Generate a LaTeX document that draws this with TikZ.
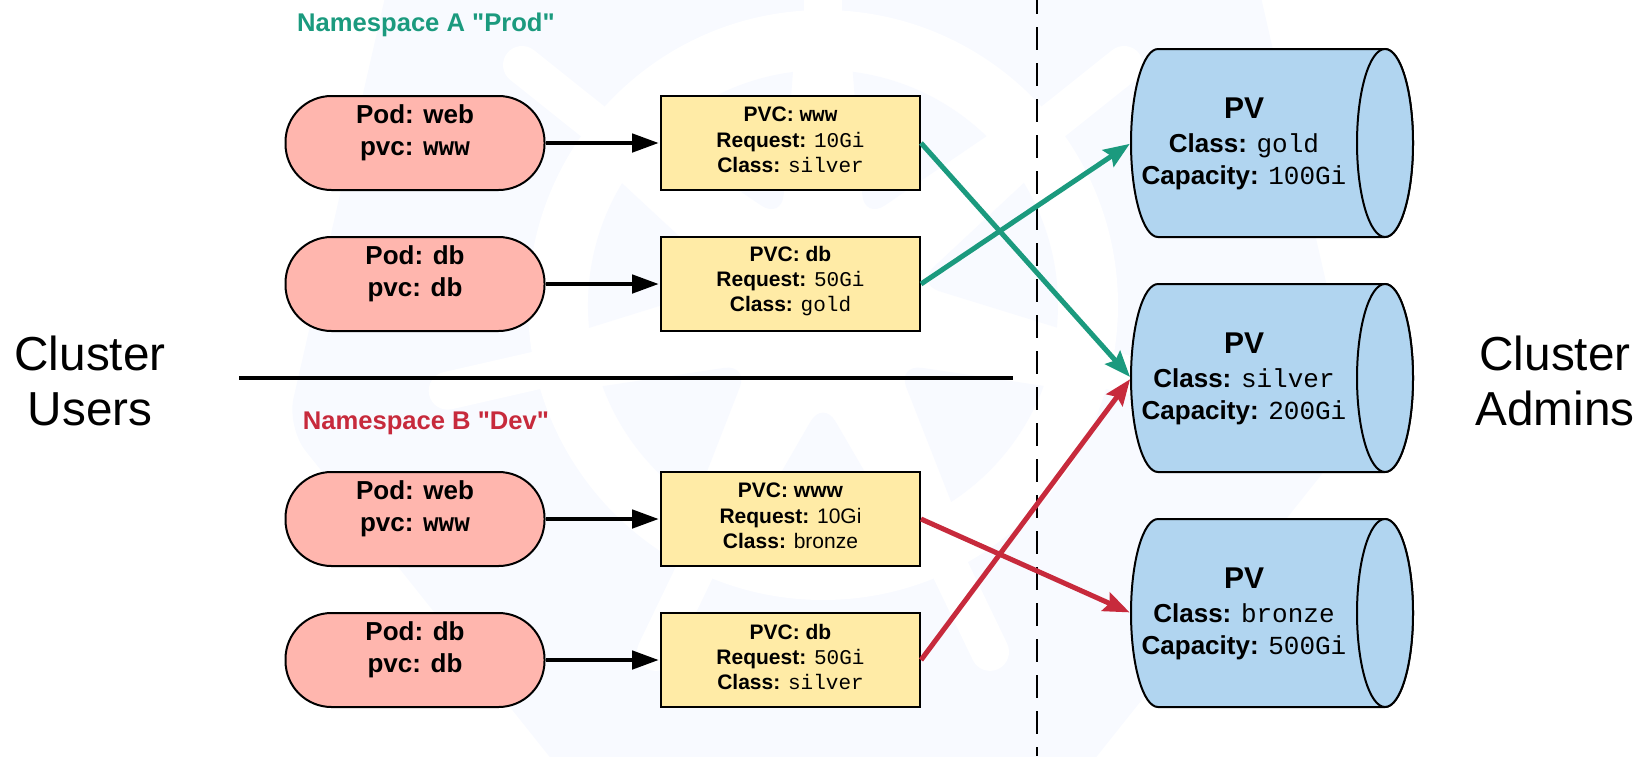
\documentclass[tikz,border=0pt]{standalone}
\usepackage{fontspec}
\setmainfont{Liberation Sans}
\setmonofont{Liberation Mono}
\newfontfamily\plainsans{Liberation Sans}
\usetikzlibrary{arrows.meta,shapes.geometric,calc}
\definecolor{wm}{HTML}{F8FAFF}
\definecolor{podfill}{HTML}{FFB6AE}
\definecolor{pvcfill}{HTML}{FFEBA6}
\definecolor{cylfill}{HTML}{B1D5F0}
\definecolor{nsa}{HTML}{1B9A7E}
\definecolor{nsb}{HTML}{C72A3C}
\tikzset{
  x=1pt,y=-1pt,
  podbox/.style={draw=black,line width=2pt,fill=podfill,rounded corners=46pt,minimum width=259pt,minimum height=94pt,inner sep=0pt,anchor=center},
  pvcbox/.style={draw=black,line width=2pt,fill=pvcfill,minimum width=259pt,minimum height=94pt,inner sep=0pt,anchor=center},
  podtxt/.style={font=\fontsize{26}{32}\selectfont\bfseries,align=center,anchor=center,inner sep=0pt},
  pvctxt/.style={font=\fontsize{21}{25.4}\selectfont,align=center,anchor=center,inner sep=0pt},
  cyltxt/.style={font=\fontsize{26}{32}\selectfont,align=center,anchor=center,inner sep=0pt},
  bigtxt/.style={font=\fontsize{47.7}{55}\selectfont,align=center,anchor=center,inner sep=0pt},
  nstxt/.style={font=\fontsize{25.6}{30}\selectfont\plainsans\bfseries,anchor=center,inner sep=0pt},
  flow/.style={line width=4.8pt,-{Stealth[length=27pt,width=18pt,inset=0pt]},shorten >=1pt},
  cross/.style={line width=5pt,-{Stealth[length=26pt,width=20pt,inset=4pt]},shorten >=1.5pt},
  cyl/.style={draw=black,line width=2pt,fill=cylfill},
}
\newcommand{\cylinder}[2]{%
  \path[cyl] (1158,#1-94) -- (1385,#1-94) arc[start angle=-90,end angle=90,x radius=28pt,y radius=-94pt] -- (1158,#1+94) arc[start angle=90,end angle=270,x radius=27pt,y radius=-94pt] -- cycle;
  \path[cyl] (1385,#1) ellipse[x radius=28pt,y radius=94pt];
  \coordinate (#2) at (1131,#1);
}
\begin{document}
\begin{tikzpicture}
\useasboundingbox (0,0) rectangle (1651,756);
\begin{scope}
\clip (0,0) rectangle (1651,756);
% watermark
\coordinate (hub) at (823,305);
\fill[wm,rounded corners=30pt]
  ($(hub)+(90:550 and -550)$) -- ($(hub)+(141.43:550 and -550)$) -- ($(hub)+(192.86:550 and -550)$) -- ($(hub)+(244.29:550 and -550)$) -- ($(hub)+(295.71:550 and -550)$) -- ($(hub)+(347.14:550 and -550)$) -- ($(hub)+(38.57:550 and -550)$) -- cycle;
\fill[white] (hub) circle[radius=295pt];
\foreach \a in {90,141.43,192.86,244.29,295.71,347.14,38.57}{
  \begin{scope}[shift={(hub)},rotate=\a]
    \fill[white] (225pt,-19pt) -- (385pt,-19pt) arc[start angle=-90,end angle=90,radius=19pt] -- (225pt,19pt) -- cycle;
  \end{scope}
  \begin{scope}[shift={(hub)},rotate=\a+25.714]
    \fill[wm] (223pt,-74pt) arc[start angle=-18.4,end angle=18.4,radius=235pt] [rounded corners=25pt] -- (95pt,0pt) [sharp corners] -- cycle;
  \end{scope}
}
\end{scope}
% divider lines
\coordinate (dtop) at (1037,0);
\coordinate (dbot) at (1037,756);
\draw[line width=2pt,dash pattern=on 23pt off 13pt,dash phase=9pt] (dtop) -- (dbot);
\coordinate (hl) at (239,378);
\coordinate (hr) at (1013,378);
\draw[line width=4pt] (hl) -- (hr);
% texts
\node[bigtxt] (cu) at (90,381) {Cluster\\Users};
\node[bigtxt] (ca) at (1555,381) {Cluster\\Admins};
\node[nstxt,text=nsa] (nsA) at (426,25) {Namespace A "Prod"};
\node[nstxt,text=nsb] (nsB) at (426,423) {Namespace B "Dev"};
% pods
\node[podbox] (p1) at (415,143) {};
\node[podbox] (p2) at (415,284) {};
\node[podbox] (p3) at (415,519) {};
\node[podbox] (p4) at (415,660) {};
\node[podtxt] (pt1) at (415,133) {Pod: web\\pvc: \texttt{www}};
\node[podtxt] (pt2) at (415,274) {Pod: db\\pvc: db};
\node[podtxt] (pt3) at (415,509) {Pod: web\\pvc: \texttt{www}};
\node[podtxt] (pt4) at (415,650) {Pod: db\\pvc: db};
% pvcs
\node[pvcbox] (c1) at (790.5,143) {};
\node[pvcbox] (c2) at (790.5,284) {};
\node[pvcbox] (c3) at (790.5,519) {};
\node[pvcbox] (c4) at (790.5,660) {};
\node[pvctxt] (ct1) at (790.5,140) {\textbf{PVC: \texttt{www}}\\\textbf{Request:} \texttt{10Gi}\\\textbf{Class:} \texttt{silver}};
\node[pvctxt] (ct2) at (790.5,281) {\textbf{PVC: db}\\\textbf{Request:} \texttt{50Gi}\\\textbf{Class:} \texttt{gold}};
\node[pvctxt] (ct3) at (790.5,516) {\textbf{PVC: www}\\\textbf{Request:} 10Gi\\\textbf{Class:} bronze};
\node[pvctxt] (ct4) at (790.5,657) {\textbf{PVC: db}\\\textbf{Request:} \texttt{50Gi}\\\textbf{Class:} \texttt{silver}};
% flows
\foreach \i in {1,2,3,4}{\draw[flow] (p\i.east) -- (c\i.west);}
% cylinders
\cylinder{143}{v1}
\cylinder{378}{v2}
\cylinder{613}{v3}
\node[cyltxt] (t1) at (1244,144) {\fontsize{30}{32}\selectfont\textbf{PV}\\[2pt]\textbf{Class:} \texttt{gold}\\\textbf{Capacity:} \texttt{100Gi}};
\node[cyltxt] (t2) at (1244,379) {\fontsize{30}{32}\selectfont\textbf{PV}\\[2pt]\textbf{Class:} \texttt{silver}\\\textbf{Capacity:} \texttt{200Gi}};
\node[cyltxt] (t3) at (1244,614) {\fontsize{30}{32}\selectfont\textbf{PV}\\[2pt]\textbf{Class:} \texttt{bronze}\\\textbf{Capacity:} \texttt{500Gi}};
% crossing arrows
\draw[cross,nsa] (c1.east) -- (v2);
\draw[cross,nsa] (c2.east) -- (v1);
\draw[cross,nsb] (c3.east) -- (v3);
\draw[cross,nsb] (c4.east) -- (v2);
\end{tikzpicture}
\end{document}
